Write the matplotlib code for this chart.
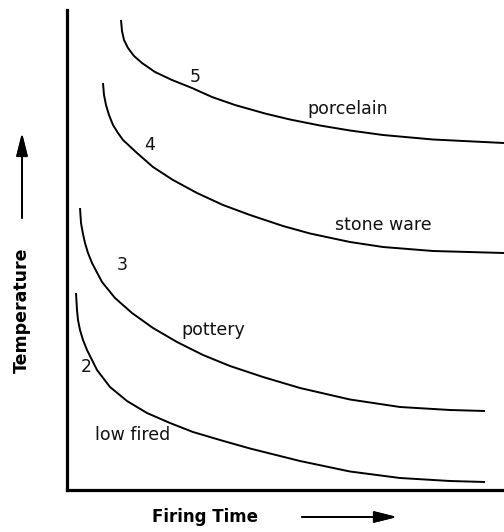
"""
Firing time vs temperature for clay bodies (schematic curves 2-5).
Values are read off the reference picture, in pixel-ish units:
x = firing time (0 at the left spine), y = temperature (0 at the bottom spine).
"""

import matplotlib
matplotlib.use("Agg")
import matplotlib.pyplot as plt

W, H = 504, 532
X0, Y0, YTOP = 67, 490, 10   # spine positions in the picture


def to_data(pts):
    return [p[0] - X0 for p in pts], [Y0 - p[1] for p in pts]


# curve points (px, py)
porcelain_pts = [(121, 20), (122, 31), (124, 40), (128, 48), (134, 56), (142, 63),
                 (155, 72), (172, 80), (192, 88), (212, 97), (235, 105), (265, 113.5),
                 (290, 119.5), (320, 125.5), (350, 130.5), (383, 135), (433, 139.5),
                 (504, 143)]
stoneware_pts = [(103, 83), (104, 95), (106, 105), (109, 115), (113, 125), (118, 133),
                 (123, 140), (137, 153), (153, 167), (173, 180), (197, 193), (223, 205),
                 (250, 215), (283, 226), (310, 233.5), (350, 242), (383, 247), (433, 251),
                 (504, 253)]
pottery_pts = [(80, 208), (81, 223), (83, 234), (85, 243), (88, 253), (92, 263),
               (102, 282), (115, 298), (132, 313), (153, 328), (177, 342), (203, 355),
               (230, 366), (263, 377), (300, 388), (350, 399.5), (400, 407), (450, 410),
               (485, 411)]
lowfired_pts = [(76, 293), (77, 310), (78, 320), (80, 330), (83, 340), (87, 350),
                (97, 370), (110, 387), (127, 401), (147, 413), (170, 423), (193, 432),
                (220, 440), (250, 448.5), (300, 461), (350, 471.5), (400, 478),
                (450, 481), (485, 482)]

curves = [porcelain_pts, stoneware_pts, pottery_pts, lowfired_pts]

# (text, px, py)
numbers = [("5", 195, 77), ("4", 150, 145), ("3", 122, 265), ("2", 86, 367)]
names = [("porcelain", 348, 109), ("stone ware", 383, 225),
         ("pottery", 213, 330), ("low fired", 133, 435)]

fig = plt.figure(figsize=(W / 100, H / 100), dpi=100)
ax = fig.add_axes([X0 / W, (H - Y0) / H, (W - X0) / W, (Y0 - YTOP) / H])
ax.set_xlim(0, W - X0)
ax.set_ylim(0, Y0 - YTOP)

for pts in curves:
    xs, ys = to_data(pts)
    ax.plot(xs, ys, color="black", lw=1.4, solid_joinstyle="round",
            solid_capstyle="butt")

for txt, px, py in numbers + names:
    ax.text(px - X0, Y0 - py, txt, fontsize=12.5, ha="center", va="center",
            color="#111111")

for side in ("top", "right"):
    ax.spines[side].set_visible(False)
for side in ("left", "bottom"):
    ax.spines[side].set_linewidth(2.3)
ax.set_xticks([])
ax.set_yticks([])

# axis titles with arrows, in figure pixels (origin bottom-left)
fig.text(22 / W, 1 - 310 / H, "Temperature", rotation=90, fontsize=12.5,
         fontweight="bold", ha="center", va="center")
fig.text(205 / W, 1 - 517 / H, "Firing Time", fontsize=12,
         fontweight="bold", ha="center", va="center")

arrow = dict(arrowstyle="-|>,head_length=1.4,head_width=0.35", color="black",
             lw=1.3, mutation_scale=10, shrinkA=0, shrinkB=0)
fig.add_artist(ax.annotate("", xy=(22, H - 133), xytext=(22, H - 218),
                           xycoords="figure pixels", textcoords="figure pixels",
                           arrowprops=arrow, annotation_clip=False))
fig.add_artist(ax.annotate("", xy=(397, H - 517), xytext=(302, H - 517),
                           xycoords="figure pixels", textcoords="figure pixels",
                           arrowprops=arrow, annotation_clip=False))

fig.savefig("out.png", dpi=100)
